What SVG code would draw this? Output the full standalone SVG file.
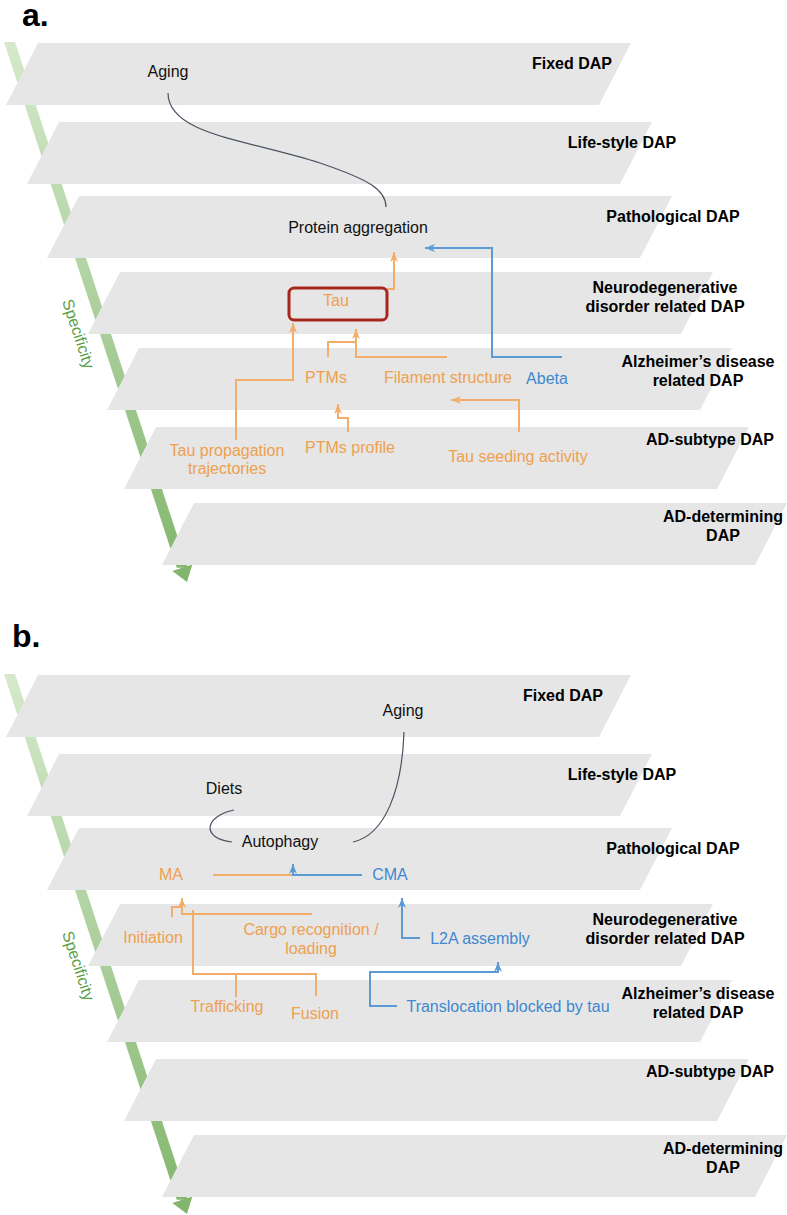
<svg xmlns="http://www.w3.org/2000/svg" width="787" height="1215" viewBox="0 0 787 1215">
<defs>
<linearGradient id="gA" gradientUnits="userSpaceOnUse" x1="0" y1="42" x2="0" y2="580">
<stop offset="0" stop-color="#d6e9cc"/><stop offset="1" stop-color="#82b66d"/>
</linearGradient>
<marker id="arO" viewBox="0 0 10 8" refX="10" refY="4" markerWidth="10" markerHeight="8" markerUnits="userSpaceOnUse" orient="auto"><path d="M0,0 L10,4 L0,8 L3,4 z" fill="#f3ad6a"/></marker>
<marker id="arB" viewBox="0 0 10 8" refX="10" refY="4" markerWidth="10" markerHeight="8" markerUnits="userSpaceOnUse" orient="auto"><path d="M0,0 L10,4 L0,8 L3,4 z" fill="#5b9bd5"/></marker>
<g id="stack">
<polygon points="4,42 15,42 187.8,567.8 176.8,567.8" fill="url(#gA)"/>
<polygon points="187,582 192.3,564.4 172.3,571.0" fill="#82b66d"/>
<polygon class="pl" points="38,43 631,43 599,105 6,105"/>
<polygon class="pl" points="59,122 652,122 620,184 27,184"/>
<polygon class="pl" points="79,196 672,196 640,258 47,258"/>
<polygon class="pl" points="120,272 713,272 681,334 88,334"/>
<polygon class="pl" points="139,348 732,348 700,410 107,410"/>
<polygon class="pl" points="156,427 749,427 717,489 124,489"/>
<polygon class="pl" points="194,503 787,503 755,565 162,565"/>
<text class="spec" transform="translate(78,334) rotate(71.8)" x="0" y="5">Specificity</text>
<text class="lab" x="622" y="148">Life-style DAP</text>
<text class="lab" x="673" y="222">Pathological DAP</text>
<text class="lab" x="665" y="293">Neurodegenerative</text>
<text class="lab" x="665" y="312">disorder related DAP</text>
<text class="lab" x="698" y="367">Alzheimer’s disease</text>
<text class="lab" x="698" y="386">related DAP</text>
<text class="lab" x="710" y="445">AD-subtype DAP</text>
<text class="lab" x="723" y="522">AD-determining</text>
<text class="lab" x="723" y="541">DAP</text>
</g>
</defs>
<style>
.pl{fill:#e6e6e6}
.lab{font-family:"Liberation Sans",Arial,sans-serif;font-size:16px;font-weight:bold;fill:#000;text-anchor:middle}
.spec{font-family:"Liberation Sans",Arial,sans-serif;font-size:16px;fill:#5c9f48;text-anchor:middle}
.panel{font-family:"Liberation Sans",Arial,sans-serif;font-size:32px;font-weight:bold;fill:#000}
.t{font-family:"Liberation Sans",Arial,sans-serif;font-size:16px;text-anchor:middle}
.k{fill:#111}
.o{fill:#eea04f}
.b{fill:#3f88d0}
.lo{fill:none;stroke:#f3ad6a;stroke-width:2}
.lb{fill:none;stroke:#5b9bd5;stroke-width:2}
.lk{fill:none;stroke:#4a5262;stroke-width:1.2}
</style>
<rect width="787" height="1215" fill="#fff"/>

<!-- Panel a -->
<g id="panelA">
<text class="panel" x="22" y="26">a.</text>
<use href="#stack"/>
<text class="lab" x="572" y="69">Fixed DAP</text>
<g id="a-connectors">
<path class="lk" d="M168,93 C168,135 250,140 320,163 C370,180 386,190 386,207"/>
<path class="lo" d="M387,289 H394 V252" marker-end="url(#arO)"/>
<path class="lb" d="M562,357 H492 V248 H425" marker-end="url(#arB)"/>
<path class="lo" d="M236,440 V380 H293 V323" marker-end="url(#arO)"/>
<path class="lo" d="M328,357 V342 H356"/>
<path class="lo" d="M447,357 H356 V329" marker-end="url(#arO)"/>
<path class="lo" d="M348,432 V418 H338 V404" marker-end="url(#arO)"/>
<path class="lo" d="M519,432 V400 H451" marker-end="url(#arO)"/>
</g>
<g id="a-aging"><text class="t k" x="168" y="77">Aging</text></g>
<g id="a-protein"><text class="t k" x="358" y="233">Protein aggregation</text></g>
<g id="a-tau"><rect x="289" y="288" width="98" height="32" rx="5" fill="none" stroke="#a8261b" stroke-width="3"/><text class="t o" x="336" y="306">Tau</text></g>
<g id="a-ptms"><text class="t o" x="326" y="383">PTMs</text></g>
<g id="a-filament"><text class="t o" x="448" y="383">Filament structure</text></g>
<g id="a-abeta"><text class="t b" x="547" y="384">Abeta</text></g>
<g id="a-prop"><text class="t o" x="227" y="456">Tau propagation</text><text class="t o" x="227" y="474">trajectories</text></g>
<g id="a-ptmsprofile"><text class="t o" x="350" y="453">PTMs profile</text></g>
<g id="a-seeding"><text class="t o" x="518" y="462">Tau seeding activity</text></g>
</g>

<!-- Panel b -->
<g id="panelB">
<text class="panel" x="12" y="647">b.</text>
<use href="#stack" transform="translate(0,632)"/>
<text class="lab" x="563" y="701">Fixed DAP</text>
<g id="b-connectors">
<path class="lk" d="M404,732 C402,790 385,835 353,842"/>
<path class="lk" d="M234,810 C205,816 200,838 232,842"/>
<path class="lo" d="M213,875 H293"/>
<path class="lb" d="M362,875 H293 V864" marker-end="url(#arB)"/>
<path class="lo" d="M172,917 V907 H182"/>
<path class="lo" d="M312,914 H182 V898" marker-end="url(#arO)"/>
<path class="lo" d="M193,910 V974 H316 V996"/>
<path class="lo" d="M236,974 V997"/>
<path class="lb" d="M420,938 H402 V898" marker-end="url(#arB)"/>
<path class="lb" d="M397,1006 H370 V972 H498 V962" marker-end="url(#arB)"/>
</g>
<g id="b-aging"><text class="t k" x="403" y="716">Aging</text></g>
<g id="b-diets"><text class="t k" x="224" y="794">Diets</text></g>
<g id="b-autophagy"><text class="t k" x="280" y="847">Autophagy</text></g>
<g id="b-ma"><text class="t o" x="171" y="880">MA</text></g>
<g id="b-cma"><text class="t b" x="390" y="880">CMA</text></g>
<g id="b-initiation"><text class="t o" x="153" y="943">Initiation</text></g>
<g id="b-cargo"><text class="t o" x="311" y="935">Cargo recognition /</text><text class="t o" x="311" y="954">loading</text></g>
<g id="b-l2a"><text class="t b" x="480" y="944">L2A assembly</text></g>
<g id="b-trafficking"><text class="t o" x="227" y="1012">Trafficking</text></g>
<g id="b-fusion"><text class="t o" x="315" y="1019">Fusion</text></g>
<g id="b-translocation"><text class="t b" x="508" y="1012">Translocation blocked by tau</text></g>
</g>
</svg>
